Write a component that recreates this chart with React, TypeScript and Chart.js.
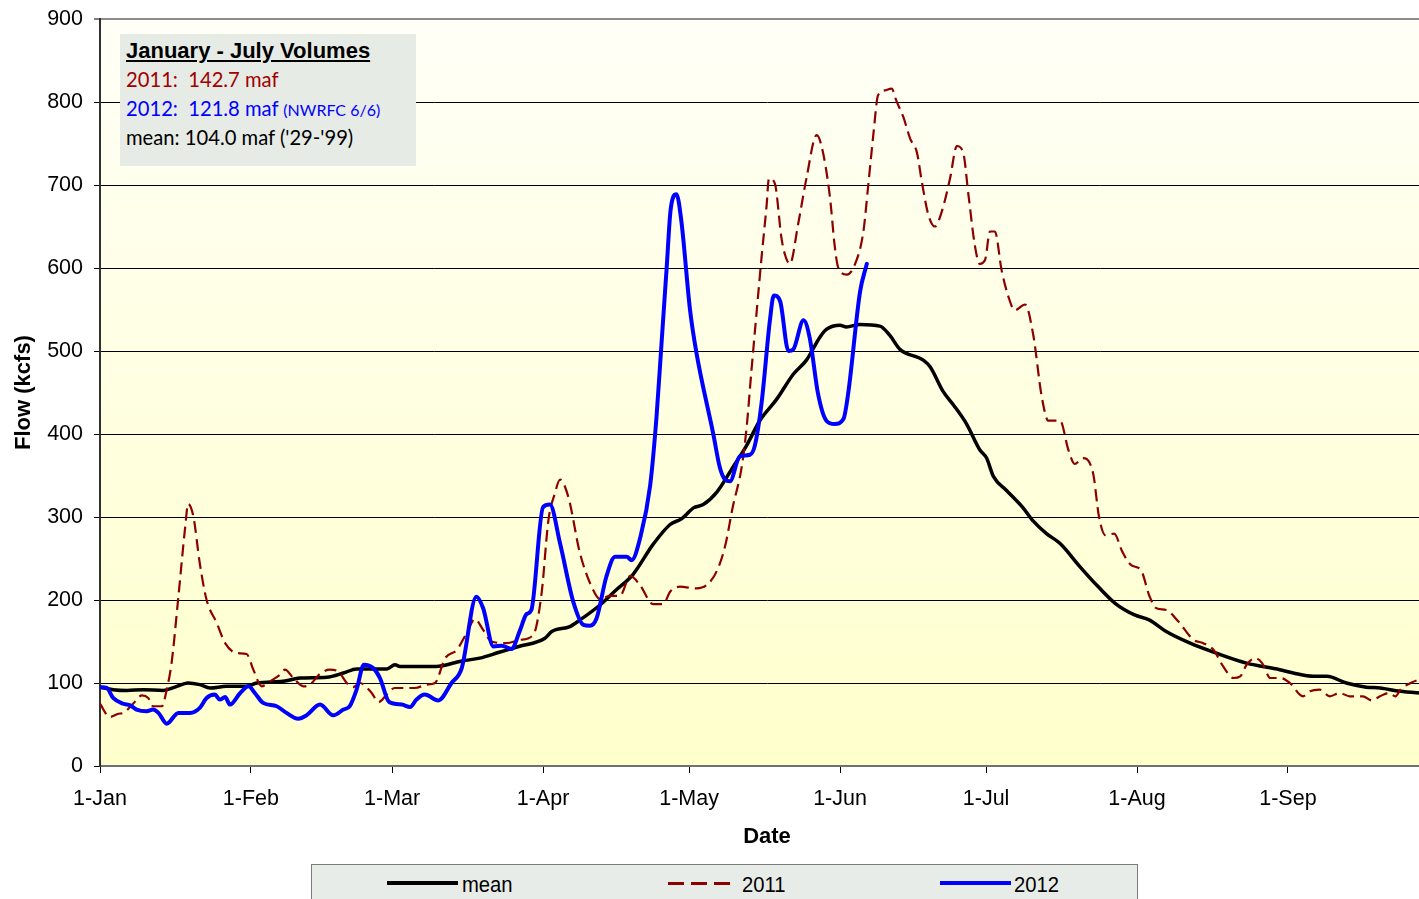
import React, { useEffect, useRef } from 'react';
import { Chart, registerables } from 'chart.js';

Chart.register(...registerables);

// ---- axis ticks ----
const monthTickDays = [0, 31, 60, 91, 121, 152, 182, 213, 244];
const monthTickLabels = ['1-Jan', '1-Feb', '1-Mar', '1-Apr', '1-May', '1-Jun', '1-Jul', '1-Aug', '1-Sep'];
const xMaxDay = 274;
const yMax = 900;
const yStep = 100;

// ---- mean flow ('29-'99) ----
const meanDays = [0, 2.7, 5.5, 8.9, 13, 15.4, 18.1, 20.5, 22.6, 26, 30.1, 32.2, 37.6, 41.1, 46.6, 50, 52.7, 58.9, 60.6, 61.6, 69.1, 72.6, 73.9, 78, 82, 86, 91.4, 92.8, 96.5, 98.6, 102.7, 106, 109.5, 113.6, 117.1, 119.5, 121.9, 123.9, 126.7, 130, 132.8, 135.5, 139, 142.4, 145.1, 147.9, 149.2, 152, 153.3, 156.1, 160.2, 162.2, 164.3, 169.1, 170.5, 173.2, 175.3, 178, 180.7, 182.1, 183.5, 186.2, 189.6, 191.7, 194.4, 197.2, 201.3, 204.7, 208.5, 212.5, 215.5, 219, 223.9, 229.3, 235.5, 242.3, 245.1, 249.2, 252, 256, 260.1, 262.9, 267, 271, 274];
const meanFlow = [95, 92, 91, 92, 91, 95, 100, 98, 94, 96, 96, 100, 102, 106, 107, 112, 117, 117, 122, 120, 120, 124, 126, 130, 137, 144, 154, 162, 168, 176, 194, 212, 231, 267, 291, 298, 311, 315, 330, 360, 386, 416, 442, 472, 489, 517, 526, 531, 529, 532, 530, 519, 502, 489, 481, 451, 435, 412, 381, 371, 349, 332, 311, 295, 280, 268, 240, 218, 196, 182, 176, 162, 148, 136, 124, 116, 112, 108, 108, 100, 95, 94, 90, 88, 87];

// ---- 2011 ----
const flow2011Days = [0, 2, 3.8, 4.8, 6.8, 8.6, 9.9, 10.9, 12.7, 13.7, 14.7, 16.1, 17.5, 18.1, 19.2, 20.5, 21.9, 24, 25.7, 28.1, 30.1, 31.5, 33.2, 34.9, 37, 38, 39.7, 41.8, 43.1, 45.2, 47.2, 48.9, 50.7, 52, 53.4, 55.8, 57.2, 58.9, 60.5, 62.3, 64.7, 67.1, 68.8, 70.9, 73.3, 75.3, 77, 78.7, 80.4, 83.5, 86.3, 89, 90.7, 92.1, 93.4, 94.5, 96.2, 98.6, 101.3, 102.7, 104.7, 106.8, 108.9, 110.9, 113.6, 115.7, 117.1, 119.1, 122.5, 124.6, 126.7, 128.4, 130, 131.8, 132.8, 133.8, 134.9, 135.9, 136.9, 137.4, 138.6, 140, 140.7, 141.7, 143.4, 145.1, 147.2, 148.2, 149.9, 150.9, 151.6, 153.4, 155.1, 156.8, 157.8, 158.9, 159.8, 161.2, 162.6, 163.6, 165, 166.4, 167.8, 168.8, 170.1, 171.5, 172.9, 174.6, 176, 177.3, 178.4, 179.7, 180.7, 181.8, 182.8, 183.8, 185.2, 186.5, 187.9, 190, 191.7, 193.4, 194.8, 197.2, 198.9, 200.2, 201.9, 204, 205.2, 206.5, 208.3, 210, 211.8, 213.8, 215.6, 217, 219, 221.5, 224.6, 226.6, 228.7, 230.7, 232.8, 234.2, 235.5, 237.3, 238.7, 240.4, 242.5, 244.4, 247.1, 248.5, 250.5, 252.6, 254.6, 256.7, 259.4, 261.2, 262.9, 264.7, 266.1, 267.1, 269.2, 271, 274];
const flow2011 = [75, 59, 63, 64, 75, 85, 82, 72, 72, 92, 124, 204, 288, 316, 300, 244, 200, 172, 148, 136, 135, 116, 96, 102, 110, 116, 106, 96, 98, 111, 116, 114, 100, 95, 100, 88, 77, 86, 94, 94, 94, 98, 100, 130, 140, 160, 177, 164, 150, 148, 152, 158, 208, 296, 328, 345, 324, 256, 212, 201, 205, 205, 229, 218, 195, 195, 210, 216, 214, 218, 235, 265, 313, 360, 407, 476, 549, 614, 674, 708, 702, 635, 616, 605, 653, 708, 760, 747, 687, 627, 601, 592, 605, 644, 700, 764, 808, 814, 816, 801, 782, 756, 739, 704, 665, 650, 668, 708, 747, 739, 687, 627, 605, 610, 644, 644, 597, 567, 549, 556, 519, 446, 416, 416, 381, 364, 371, 352, 300, 278, 280, 258, 242, 236, 204, 190, 188, 174, 152, 148, 140, 120, 106, 108, 122, 130, 124, 106, 106, 100, 84, 90, 92, 84, 88, 84, 84, 79, 84, 88, 84, 92, 100, 104, 106];

// ---- 2012 ----
const flow2012Days = [0, 1.4, 2.7, 4.8, 6.2, 7.5, 9.6, 10.9, 12, 13.7, 16.1, 18.5, 20.5, 21.9, 23.6, 24.6, 25.7, 26.7, 28.8, 30.5, 31.8, 33.5, 36.3, 38.3, 40.7, 42.4, 45.2, 47.9, 50, 51.3, 52.7, 54.2, 56.1, 57.5, 59.4, 62, 63.7, 65, 66.7, 69.5, 72.2, 74.3, 77.3, 78.7, 80.8, 82.5, 84.5, 86.3, 87.6, 88.6, 91, 92.4, 94.5, 97.2, 99.3, 100.6, 102, 104, 105.8, 108.2, 109.2, 111, 113, 114.3, 115.3, 116.4, 117.2, 118.4, 119.4, 121.2, 122.5, 126, 127.3, 128.4, 129.4, 131.4, 133.5, 134.5, 135.9, 137.6, 138.4, 139.7, 141.4, 142.4, 144.5, 145.8, 147.5, 149.2, 150.9, 152.7, 153.7, 156.1, 157.5];
const flow2012 = [95, 94, 82, 75, 73, 68, 66, 68, 64, 51, 64, 64, 70, 82, 86, 80, 83, 74, 88, 96, 88, 76, 72, 64, 57, 61, 74, 61, 68, 72, 92, 122, 118, 106, 77, 74, 71, 80, 86, 79, 100, 118, 204, 190, 144, 145, 141, 164, 183, 188, 312, 315, 268, 198, 170, 169, 178, 228, 252, 252, 248, 276, 338, 420, 506, 601, 670, 689, 657, 549, 498, 399, 360, 345, 343, 373, 375, 386, 438, 537, 567, 560, 500, 502, 537, 515, 448, 416, 412, 418, 450, 571, 605];

const W = 1440;
const H = 930;

const toXY = (days: number[], vals: number[]) => days.map((d, i) => ({ x: d, y: vals[i] }));

const plotBg = {
  id: 'plotBg',
  beforeDraw(chart: any) {
    const { ctx, chartArea: a } = chart;
    if (!a) return;
    const g = ctx.createLinearGradient(0, a.top, 0, a.bottom);
    g.addColorStop(0, '#FFFFF7');
    g.addColorStop(1, '#FFFFCC');
    ctx.save();
    ctx.fillStyle = g;
    ctx.fillRect(a.left, a.top, a.right - a.left, a.bottom - a.top);
    ctx.restore();
  },
};

const ARIAL = '"Liberation Sans", Arial, sans-serif';
const CAL = 'Lato, "Open Sans", sans-serif';

export default function App() {
  const canvasRef = useRef<HTMLCanvasElement | null>(null);

  useEffect(() => {
    if (!canvasRef.current) return;
    Chart.defaults.font.family = ARIAL;
    const chart = new Chart(canvasRef.current, {
      type: 'line',
      data: {
        datasets: [
          {
            label: '2012',
            data: toXY(flow2012Days, flow2012),
            borderColor: '#0000FF',
            borderWidth: 4,
            pointRadius: 0,
            cubicInterpolationMode: 'monotone',
            borderJoinStyle: 'round',
            borderCapStyle: 'round',
            order: 1,
          },
          {
            label: '2011',
            data: toXY(flow2011Days, flow2011),
            borderColor: '#8B0000',
            borderWidth: 2.2,
            borderDash: [12, 6],
            pointRadius: 0,
            cubicInterpolationMode: 'monotone',
            order: 2,
          },
          {
            label: 'mean',
            data: toXY(meanDays, meanFlow),
            borderColor: '#000000',
            borderWidth: 3.5,
            pointRadius: 0,
            cubicInterpolationMode: 'monotone',
            borderJoinStyle: 'round',
            order: 3,
          },
        ],
      } as any,
      options: {
        responsive: false,
        animation: false,
        events: [],
        devicePixelRatio: 1,
        layout: { padding: { left: 0, top: 19, right: W - 1434, bottom: 0 } },
        plugins: {
          legend: { display: false },
          tooltip: { enabled: false },
        },
        scales: {
          x: {
            type: 'linear',
            min: 0,
            max: xMaxDay,
            afterBuildTicks: (s: any) => {
              s.ticks = monthTickDays.map((v) => ({ value: v }));
            },
            afterFit: (s: any) => {
              s.height = H - 766;
              s.paddingRight = 0;
            },
            ticks: {
              autoSkip: false,
              maxRotation: 0,
              padding: 13,
              color: '#000',
              font: { size: 21.5 },
              callback: (v: any) => {
                const i = monthTickDays.indexOf(Number(v));
                return i >= 0 ? monthTickLabels[i] : '';
              },
            },
            grid: {
              drawOnChartArea: false,
              drawTicks: true,
              tickLength: 7,
              color: '#000',
              tickColor: '#000',
              tickWidth: 1,
            },
            border: { display: true, color: '#707070', width: 2 },
            title: {
              display: true,
              text: 'Date',
              color: '#000',
              font: { size: 22, weight: 'bold' },
              padding: { top: 0, bottom: 80 },
            },
          },
          y: {
            type: 'linear',
            min: 0,
            max: yMax,
            afterFit: (s: any) => {
              s.width = 100;
              s.paddingTop = 0;
              s.paddingBottom = 0;
            },
            ticks: {
              stepSize: yStep,
              padding: 11,
              color: '#000',
              font: { size: 21.5 },
            },
            grid: {
              color: (c: any) => (c.tick && c.tick.value === yMax ? '#8c8c8c' : '#000'),
              lineWidth: (c: any) => (c.tick && c.tick.value === yMax ? 2 : 1),
              tickColor: '#000',
              tickWidth: 1,
              tickLength: 6,
            },
            border: { display: true, color: '#303030', width: 2 },
            title: {
              display: true,
              text: 'Flow (kcfs)',
              color: '#000',
              font: { size: 22, weight: 'bold' },
              padding: { top: 11, bottom: 0 },
            },
          },
        },
      } as any,
      plugins: [plotBg],
    });
    return () => chart.destroy();
  }, []);

  const lineDiv = (left: number, top: number, style: any, text: string) => (
    <div style={{ position: 'absolute', left, top, lineHeight: 1, whiteSpace: 'pre', ...style }}>{text}</div>
  );

  return (
    <div style={{ position: 'fixed', left: 0, top: 0, width: 1419, height: 899, overflow: 'hidden', background: '#fff' }}>
      <div style={{ position: 'relative', width: W, height: H }}>
        <canvas ref={canvasRef} width={W} height={H} style={{ display: 'block', width: W, height: H }} />

        {/* volumes box */}
        <div style={{ position: 'absolute', left: 120, top: 34, width: 296, height: 132, background: '#E7EBE6' }} />
        {lineDiv(126, 37.5, { font: `bold 22px ${ARIAL}`, textDecoration: 'underline', color: '#000' }, 'January - July Volumes')}
        {lineDiv(126, 67, { font: `20.2px ${CAL}`, color: '#A00000' }, '2011:  142.7 maf')}
        <div style={{ position: 'absolute', left: 126, top: 96, lineHeight: 1, whiteSpace: 'pre', font: `20.2px ${CAL}`, color: '#0000FF' }}>
          {'2012:  121.8 maf '}
          <span style={{ fontSize: 16 }}>(NWRFC 6/6)</span>
        </div>
        {lineDiv(126, 125, { font: `20.2px ${CAL}`, color: '#000' }, "mean: 104.0 maf ('29-'99)")}

        {/* legend box */}
        <div style={{ position: 'absolute', left: 311, top: 864, width: 825, height: 60, background: '#E8ECE8', border: '1px solid #7a7a7a' }} />
        <div style={{ position: 'absolute', left: 387, top: 881, width: 71, height: 4, background: '#000' }} />
        <div style={{ position: 'absolute', left: 668, top: 881.5, width: 62, height: 3, background: 'repeating-linear-gradient(90deg, #8B0000 0 16px, transparent 16px 23px)' }} />
        <div style={{ position: 'absolute', left: 940, top: 881, width: 71, height: 4, background: '#0000FF' }} />
        {lineDiv(462, 872, { font: `22px ${ARIAL}`, color: '#000', transform: 'scaleX(0.92)', transformOrigin: 'left' }, 'mean')}
        {lineDiv(742, 872, { font: `22px ${ARIAL}`, color: '#000', transform: 'scaleX(0.92)', transformOrigin: 'left' }, '2011')}
        {lineDiv(1014, 872, { font: `22px ${ARIAL}`, color: '#000', transform: 'scaleX(0.92)', transformOrigin: 'left' }, '2012')}
      </div>
    </div>
  );
}
